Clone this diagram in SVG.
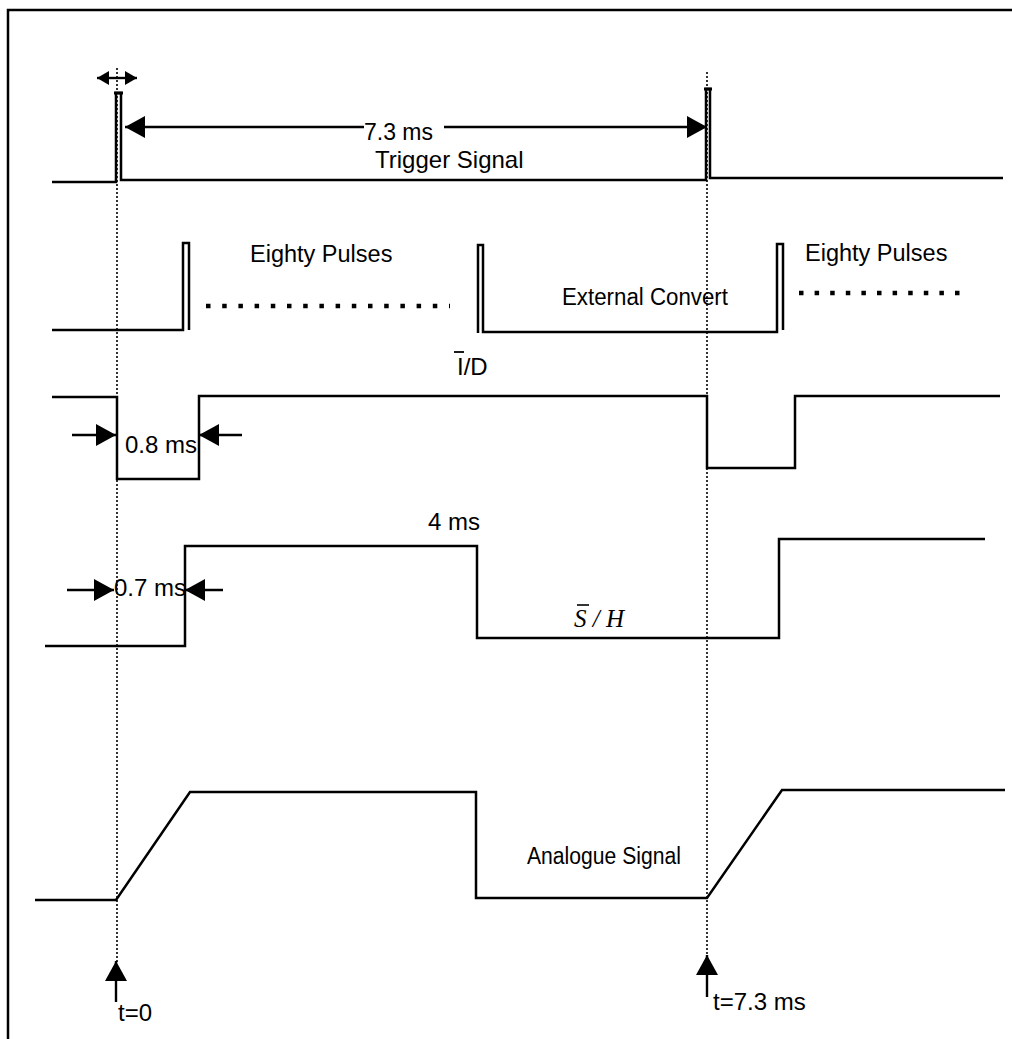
<svg xmlns="http://www.w3.org/2000/svg" width="1012" height="1039" viewBox="0 0 1012 1039">
<style>
.sig{fill:none;stroke:#000;stroke-width:2.5;stroke-linejoin:miter}
.dot{fill:none;stroke:#000;stroke-width:1.6;stroke-dasharray:2 2}
.arr{fill:none;stroke:#000;stroke-width:2.4}
.t{font-family:"Liberation Sans",Arial,sans-serif;font-size:24px;fill:#000}
.it{font-family:"Liberation Serif","Times New Roman",serif;font-style:italic;font-size:25px;fill:#000}
.dots{fill:none;stroke:#000;stroke-width:4.5}
</style>
<defs>
<marker id="ah" markerUnits="userSpaceOnUse" markerWidth="22" markerHeight="24" refX="20" refY="11" orient="auto">
<path d="M0,0 L20,11 L0,22 z" fill="#000"/>
</marker>
<marker id="ahs" markerUnits="userSpaceOnUse" markerWidth="14" markerHeight="16" refX="12" refY="7" orient="auto">
<path d="M0,0 L12,7 L0,14 z" fill="#000"/>
</marker>
</defs>
<rect width="1012" height="1039" fill="#fff"/>
<g id="frame">
<path d="M8,1039 V10 H1012" fill="none" stroke="#000" stroke-width="2.5"/>
</g>
<g id="connectors">
<line class="dot" x1="117" y1="68" x2="117" y2="962"/>
<line class="dot" x1="707" y1="72" x2="707" y2="956"/>
<line class="arr" x1="117" y1="78" x2="97" y2="78" marker-end="url(#ahs)"/>
<line class="arr" x1="117" y1="78" x2="137" y2="78" marker-end="url(#ahs)"/>
<line class="arr" x1="364" y1="127" x2="125" y2="127" marker-end="url(#ah)"/>
<line class="arr" x1="444" y1="127" x2="707" y2="127" marker-end="url(#ah)"/>
<line class="arr" x1="72" y1="435" x2="116" y2="435" marker-end="url(#ah)"/>
<line class="arr" x1="242" y1="435" x2="199" y2="435" marker-end="url(#ah)"/>
<line class="arr" x1="67" y1="590" x2="114" y2="590" marker-end="url(#ah)"/>
<line class="arr" x1="223" y1="590" x2="185" y2="590" marker-end="url(#ah)"/>
<line class="arr" x1="116" y1="1002" x2="116" y2="961" marker-end="url(#ah)"/>
<line class="arr" x1="707" y1="997" x2="707" y2="955" marker-end="url(#ah)"/>
</g>
<g id="trigger">
<path class="sig" d="M52,182 H116 V93 H121 V180 H706 V89 H710 V178 H1003"/>
<path d="M114,93 H123 M704,89 H712" stroke="#000" stroke-width="3"/>
<text class="t" x="364" y="140" style="font-size:23px">7.3 ms</text>
<text class="t" x="375" y="168">Trigger Signal</text>
</g>
<g id="external-convert">
<path class="sig" d="M52,330 H183 V243 H189 V330"/>
<path class="sig" d="M478,333 V245 H483 V332 H777 V244 H783 V330"/>
<line class="dots" x1="206" y1="306" x2="450" y2="306" stroke-dasharray="4.5 11.7"/>
<line class="dots" x1="799" y1="293" x2="960" y2="293" stroke-dasharray="4.5 11.1"/>
<text class="t" x="250" y="262" style="font-size:23.5px">Eighty Pulses</text>
<text class="t" x="805" y="261" style="font-size:23.5px">Eighty Pulses</text>
<text class="t" x="562" y="305" style="font-size:23px" textLength="166" lengthAdjust="spacingAndGlyphs">External Convert</text>
</g>
<g id="id-signal">
<path class="sig" d="M52,397 H117 V479 H199 V396 H707 V468 H795 V396 H1000"/>
<text class="t" x="457" y="375">I/D</text>
<line x1="454" y1="352" x2="464" y2="352" stroke="#000" stroke-width="1.8"/>
<text class="t" x="125" y="453">0.8 ms</text>
</g>
<g id="sh-signal">
<path class="sig" d="M45,646 H185 V546 H477 V638 H779 V539 H985"/>
<text class="t" x="428" y="530">4 ms</text>
<text class="t" x="114" y="596">0.7 ms</text>
<text class="it" x="574" y="627">S / H</text>
<line x1="577" y1="605" x2="589" y2="605" stroke="#000" stroke-width="1.6"/>
</g>
<g id="analogue">
<path class="sig" d="M35,900 H116 L190,792 H476 V898 H707 L782,790 H1005"/>
<text class="t" x="527" y="864" style="font-size:23px" textLength="154" lengthAdjust="spacingAndGlyphs">Analogue Signal</text>
</g>
<g id="time-labels">
<text class="t" x="118" y="1021">t=0</text>
<text class="t" x="713" y="1010">t=7.3 ms</text>
</g>
</svg>
